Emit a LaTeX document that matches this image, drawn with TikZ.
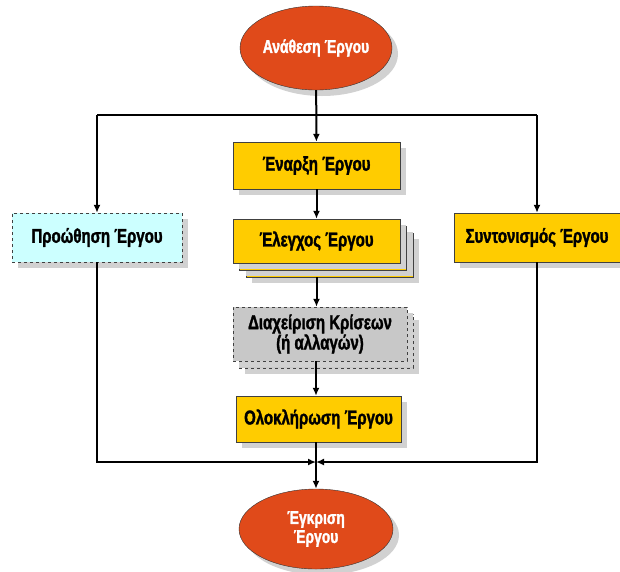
\documentclass[tikz,border=0pt]{standalone}
\usepackage{fontspec}
\newfontfamily\boxfont{Liberation Sans Bold}[FakeStretch=0.75,FakeBold=1.6]
\usetikzlibrary{shapes,shadows,arrows.meta}
\definecolor{oval}{RGB}{224,74,26}
\definecolor{gold}{RGB}{255,204,0}
\definecolor{pale}{RGB}{204,255,255}
\definecolor{crisis}{RGB}{200,200,200}
\begin{document}
\begin{tikzpicture}[x=1pt,y=-1pt,
  shade/.style={drop shadow={shadow xshift=6pt,shadow yshift=-6pt,fill=black!18,opacity=1}},
  ovalnode/.style={ellipse,draw=black!80,fill=oval,text=white,font=\boxfont\fontsize{18.5}{19}\selectfont,align=center,inner sep=0pt,shade},
  task/.style={rectangle,draw=black!75,fill=gold,font=\boxfont\fontsize{20}{18}\selectfont,align=center,inner sep=0pt,shade},
  flow/.style={line width=2pt,-{Latex[length=8pt,width=7pt]}},
  line/.style={line width=2pt}]
  \useasboundingbox (0,0) rectangle (620,571);
  % ovals
  \node[ovalnode,minimum width=152pt,minimum height=84pt] (start) at (316,48) {Ανάθεση Έργου};
  \node[ovalnode,minimum width=154pt,minimum height=80pt] (finish) at (316,529) {Έγκριση\\Έργου};
  % centre column
  \node[task,minimum width=167pt,minimum height=47pt] (begin) at (316.5,165.5) {Έναρξη Έργου};
  \node[task,minimum width=167pt,minimum height=44pt] (checkC) at (329.5,255) {};
  \node[task,minimum width=167pt,minimum height=44pt,drop shadow={opacity=0}] (checkB) at (323,248) {};
  \node[task,minimum width=167pt,minimum height=44pt,drop shadow={opacity=0}] (check) at (316.5,241) {Έλεγχος Έργου};
  \node[task,fill=crisis,dashed,minimum width=174pt,minimum height=54pt] (crisisB) at (326,341) {};
  \node[task,fill=crisis,dashed,minimum width=174pt,minimum height=54pt,drop shadow={opacity=0}] (crisis) at (320,334) {Διαχείριση Κρίσεων\\(ή αλλαγών)};
  \node[task,minimum width=165pt,minimum height=46pt] (close) at (318.5,419) {Ολοκλήρωση Έργου};
  % side boxes
  \node[task,fill=pale,dashed,minimum width=170pt,minimum height=49pt] (promo) at (97,237.5) {Προώθηση Έργου};
  \node[task,minimum width=166pt,minimum height=49pt] (coord) at (537,237.5) {Συντονισμός Έργου};
  % junctions
  \coordinate (split) at (316,115);
  \coordinate (join) at (316,462);
  % connectors
  \draw[line] (promo.north |- split) -- (coord.north |- split);
  \draw[flow] (start) -- (begin);
  \draw[flow] (promo.north |- split) -- (promo.north);
  \draw[flow] (coord.north |- split) -- (coord.north);
  \draw[flow] (begin) -- (check);
  \draw[flow] (check.south |- checkC.south) -- (crisis.north -| check.south);
  \draw[flow] (crisis.south) ++(-4,0) coordinate (cs) -- (cs |- close.north);
  \draw[flow] (promo.south) |- (join);
  \draw[flow] (coord.south) |- (join);
  \draw[flow] (close.south -| join) -- (finish.north);
\end{tikzpicture}
\end{document}
